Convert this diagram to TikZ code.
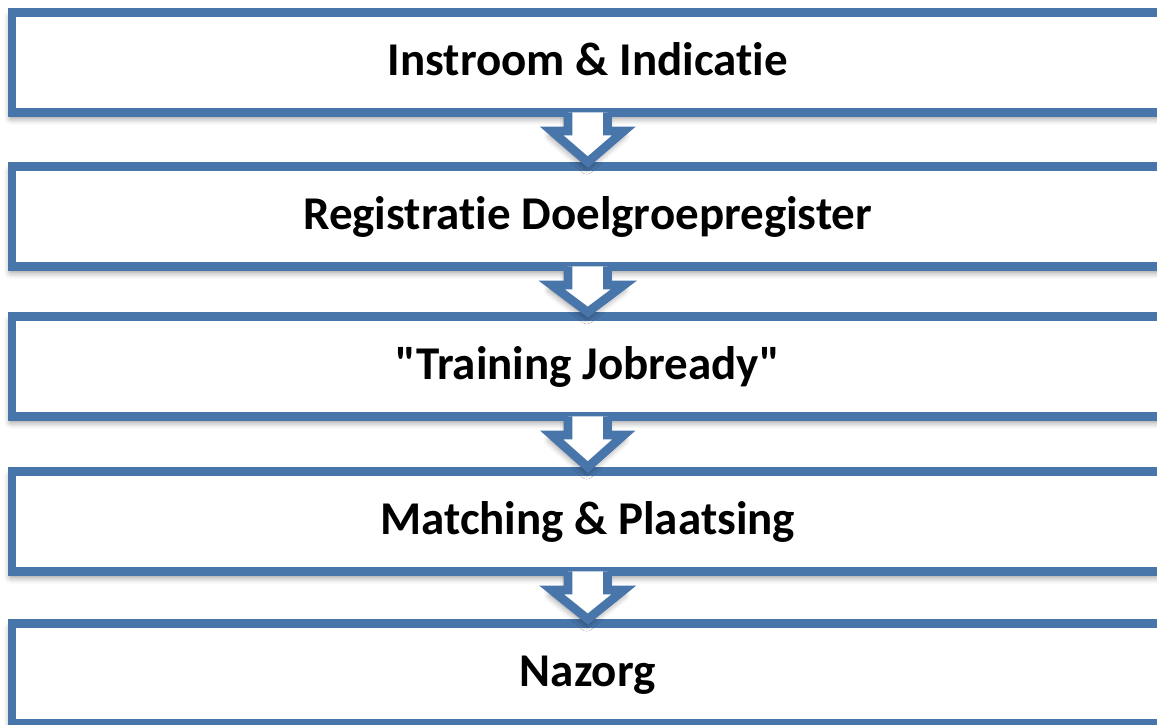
\documentclass[tikz,border=0pt]{standalone}
\usepackage{fontspec}
% plain Carlito: straight quotes kept, no "ti" ligature
\newfontfamily\stagefont{Carlito}[RawFeature={-liga;-clig;-calt;-dlig}]
\usetikzlibrary{calc,shadows.blur}

\definecolor{stageblue}{RGB}{72,117,170}

\tikzset{
  softshadow/.style={blur shadow={shadow xshift=-1pt, shadow yshift=-5pt,
      shadow blur radius=7pt, shadow opacity=50}},
  stage/.style={rectangle, draw=stageblue, line width=8.75pt, fill=white,
      minimum width=1151.5pt, minimum height=100pt, inner sep=0pt,
      font=\stagefont\fontsize{47pt}{56pt}\selectfont\bfseries,
      text height=30pt, text depth=5pt, softshadow},
  flowarrow/.style={draw=stageblue, line width=8.75pt, fill=white,
      line join=miter, softshadow},
}

\begin{document}
\begin{tikzpicture}[x=1pt,y=-1pt]
  \useasboundingbox (0,0) rectangle (1157,724);
  \clip (0,0) rectangle (1157,724);

  % the five stages
  \node[stage] (s1) at (587.75,62.5)  {Instroom \& Indicatie};
  \node[stage] (s2) at (587.75,216.5) {Registratie Doelgroepregister};
  \node[stage] (s3) at (587.75,366.5) {"Training Jobready"};
  \node[stage] (s4) at (587.75,521.5) {Matching \& Plaatsing};
  \node[stage] (s5) at (587.75,673.5) {Nazorg};

  % hollow block arrows from each stage to the next
  \foreach \a/\b in {s1/s2, s2/s3, s3/s4, s4/s5} {
    \path[flowarrow]
      ($(\a.south)+(-19.75,-4.4)$) -- ++(0,18.4) -- ++(-16.5,0)
      -- (\b.north)
      -- ($(\a.south)+(36.25,14)$) -- ++(-16.5,0) -- ++(0,-18.4);
  }
\end{tikzpicture}
\end{document}
